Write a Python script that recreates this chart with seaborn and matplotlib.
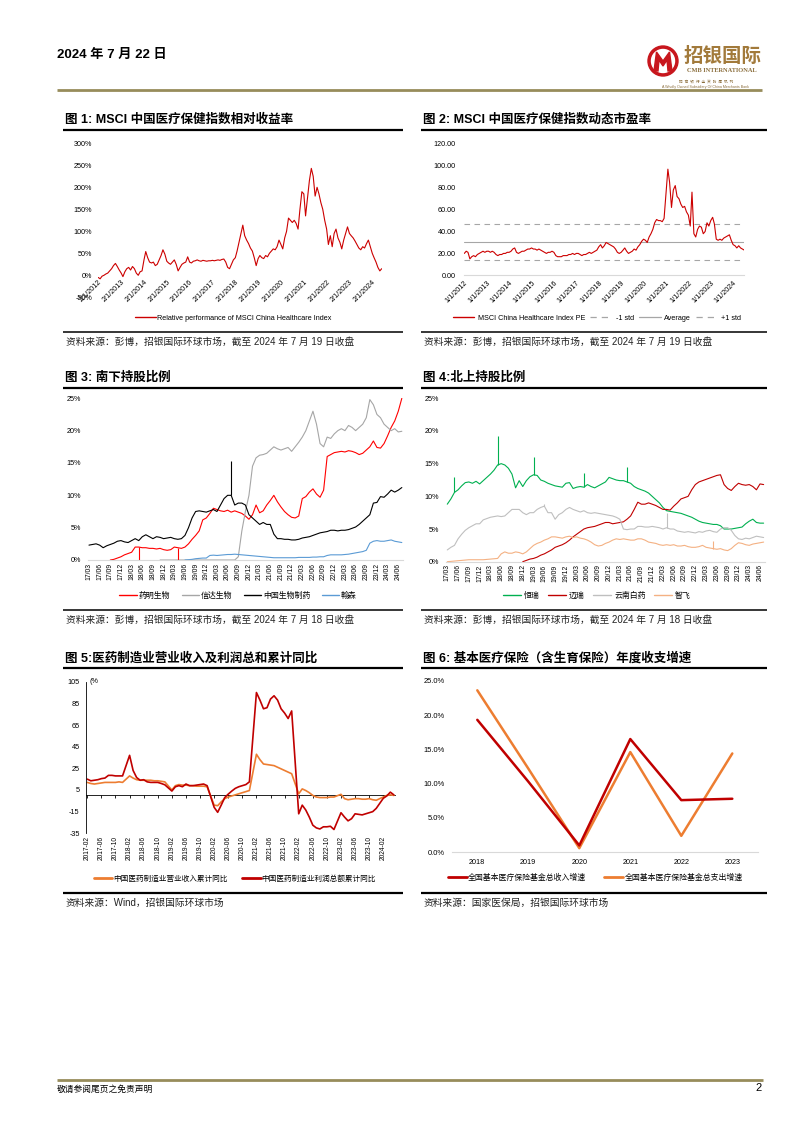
import numpy as np
import pandas as pd
import matplotlib
matplotlib.use("Agg")
import matplotlib.pyplot as plt
import seaborn as sns
from matplotlib.lines import Line2D
from matplotlib.patches import Circle, Polygon

nan = np.nan

# ---- 图1: relative performance, monthly from 2012-02 to 2024-07 (%)
rel_perf = [
    -5, -8, -2, 0, 3, 5, 10, 15, 22, 27, 20,
    12, 5, -3, 8, 15, 18, 12, 20, 15, 5, 0, 8,
    10, 35, 54, 40, 30, 28, 30, 22, 25, 35, 45, 58,
    48, 32, 28, 25, 30, 35, 25, 10, 18, 25, 28, 30,
    42, 30, 28, 32, 33, 35, 33, 32, 34, 33, 32, 33,
    33, 34, 33, 34, 35, 34, 36, 37, 30, 18, 15, 25,
    35, 40, 55, 75, 95, 114, 90, 80, 72, 62, 55, 40,
    22, 38, 45, 40, 38, 45, 42, 50, 55, 60, 58, 65,
    80, 70, 60, 85, 100, 130, 125, 120, 125, 118, 105, 150,
    190, 185, 135, 175, 215, 243, 225, 180, 200, 185, 165, 150,
    125, 105, 70, 90, 65, 95, 105, 85, 75, 60, 80, 95,
    110, 95, 90, 85, 78, 70, 62, 58, 65, 62, 72, 80,
    65, 50, 40, 30, 18, 10, 15,
]
rel_years = list(range(2012, 2025))

# ---- 图2: PE, monthly from 2012-01 to 2024-07
pe = [
    20, 22, 21, 15, 17, 18, 17, 19, 20, 21, 22, 21,
    22, 22, 21, 22, 21, 19, 18, 19, 19, 20, 20, 21,
    21, 22, 24, 25, 21, 20, 21, 22, 22, 23, 24, 24,
    25, 24, 24, 23, 24, 23, 22, 21, 20, 21, 21, 22,
    21, 18, 17, 17, 17, 18, 18, 18, 19, 19, 20, 19,
    20, 20, 19, 18, 19, 19, 20, 21, 20, 21, 22, 23,
    26, 28, 25, 27, 30, 29, 28, 27, 26, 24, 21, 20,
    21, 23, 25, 22, 20, 21, 22, 24, 23, 26, 28, 31,
    33, 32, 30, 35, 38, 42, 48, 51, 50, 50, 49, 52,
    75, 97, 85, 62, 78, 82, 72, 70, 65, 62, 63, 58,
    55, 45, 76, 38, 35, 42, 45, 44, 38, 40, 48, 45,
    50, 53, 47, 33, 32, 33, 32, 34, 35, 36, 37, 32,
    28, 27, 25, 27, 25, 24, 23,
]
pe_minus_std, pe_avg, pe_plus_std = 14.3, 30.2, 46.6

# ---- 图3: southbound holding ratio (%), monthly 2017-03 .. 2024-07
sb_wuxi = [
    nan, nan, nan, nan, nan, nan, 0.0, 0.1, 0.3, 0.5,
    0.8, 1.0, 1.2, 2.0, 2.0, 1.9, 1.9, 1.8, 1.8, 1.7, 1.8, 1.6,
    1.5, 1.6, 2.0, 1.9, 1.8, 2.0, 2.5, 3.2, 3.8, 4.5, 6.2, 6.5,
    7.2, 8.0, 7.8, 7.6, 7.5, 7.7, 7.4, 7.6, 7.4, 7.2, 6.8, 6.3,
    7.0, 8.5, 7.3, 7.6, 8.5, 9.2, 10.0, 9.0, 8.2, 7.5, 7.0, 6.6,
    6.5, 6.8, 9.5, 9.8, 10.5, 11.0, 10.2, 9.7, 10.8, 16.0, 16.3, 16.6,
    16.7, 16.8, 16.7, 16.9, 16.8, 16.6, 16.3, 16.5, 17.0, 17.5, 18.4, 17.4,
    17.3, 18.0, 19.2, 20.5, 21.5, 23.0, 25.0,
]
sb_innovent = [
    nan, nan, nan, nan, nan, nan, nan, nan, nan, nan,
    nan, nan, nan, nan, nan, nan, nan, nan, nan, nan, 0.0, 0.0,
    0, 0, 0, 0, 0, 0, 0, 0, 0, 0, 0, 0,
    0, 0, 0, 0, 0, 0, 0, 0, 0.5, 4.5, 7.5, 10.0,
    14.5, 15.8, 16.2, 16.3, 16.5, 17.0, 17.5, 17.2, 17.0, 17.2, 17.4, 16.8,
    17.5, 18.2, 19.0, 20.0, 21.5, 23.0, 21.0, 18.0, 17.5, 19.0, 18.8, 19.5,
    20.0, 20.3, 20.0, 20.8, 20.5, 20.0, 20.5, 21.0, 22.0, 24.8, 24.0, 22.5,
    22.0, 21.0, 20.5, 20.0, 20.3, 19.8, 19.9,
]
sb_sinobio = [
    2.3, 2.4, 2.5, 2.3, 1.9, 2.2, 2.4, 2.6, 2.9, 3.0,
    2.8, 2.7, 3.0, 3.3, 3.0, 3.6, 3.9, 3.6, 3.3, 3.6, 3.5, 3.3,
    3.4, 3.5, 3.3, 3.2, 3.3, 3.8, 5.0, 6.5, 7.5, 7.6, 7.5, 7.4,
    7.6, 7.8, 7.5, 8.5, 9.5, 10.0, 10.0, 8.5, 8.8, 8.8, 8.5, 7.0,
    6.5, 6.0, 5.5, 5.8, 5.5, 5.5, 4.0, 3.3, 3.3, 3.2, 3.2, 3.1,
    3.1, 3.2, 3.4, 3.5, 3.6, 3.8, 4.0, 4.2, 4.3, 4.4, 4.6, 4.6,
    4.5, 4.6, 4.6, 4.7, 4.9, 5.1, 5.5, 6.0, 6.5, 7.0, 8.8, 8.9,
    9.8, 9.7, 10.2, 10.8, 10.5, 10.8, 11.2,
]
sb_hansoh = [
    nan, nan, nan, nan, nan, nan, nan, nan, nan, nan,
    nan, nan, nan, nan, nan, nan, nan, nan, nan, nan, nan, nan,
    nan, nan, nan, nan, nan, 0.0, 0.05, 0.1, 0.2, 0.25, 0.3, 0.3,
    0.7, 0.75, 0.7, 0.75, 0.8, 0.85, 0.85, 0.9, 0.85, 0.8, 0.75, 0.7,
    0.65, 0.6, 0.55, 0.5, 0.45, 0.4, 0.35, 0.35, 0.35, 0.35, 0.35, 0.35,
    0.35, 0.4, 0.4, 0.4, 0.4, 0.45, 0.45, 0.5, 0.5, 0.7, 0.8, 0.8,
    0.8, 0.8, 0.85, 0.9, 1.0, 1.1, 1.2, 1.3, 1.5, 2.6, 2.9, 3.0,
    2.9, 2.9, 3.0, 3.1, 2.9, 2.8, 2.7,
]
sb_names = ["药明生物", "信达生物", "中国生物制药", "翰森"]
sb_colors = ["#ff0000", "#a6a6a6", "#000000", "#5b9bd5"]
# one-day spikes: (series, month index, spike end)
sb_spikes = [(0, 14, 0.0), (0, 25, 0.0), (2, 40, 15.3)]

# ---- 图4: northbound holding ratio (%), monthly 2017-03 .. 2024-07
nb_hengrui = [
    8.8, 9.6, 10.6, 11.0, 11.6, 12.1, 12.2, 12.0, 12.3, 11.9,
    12.4, 12.9, 13.4, 14.0, 14.8, 15.0, 14.8, 14.3, 13.4, 11.3, 12.4, 11.5,
    12.4, 13.0, 13.3, 13.2, 12.5, 12.3, 12.0, 11.8, 11.6, 11.5, 11.4, 12.0,
    12.1, 11.2, 11.4, 11.5, 11.4, 11.8, 11.5, 11.3, 11.6, 11.9, 12.2, 12.9,
    12.7, 12.5, 12.4, 12.4, 12.2, 12.0, 11.5, 11.2, 11.0, 10.8, 10.5, 10.0,
    9.5, 9.0, 8.3, 7.8, 7.7, 7.6, 7.5, 7.4, 7.2, 7.0, 6.8, 6.5,
    6.2, 6.0, 5.9, 5.8, 5.7, 5.7, 5.5, 5.0, 5.0, 5.0, 5.1, 5.2,
    5.3, 5.8, 6.2, 6.5, 6.0, 5.9, 5.9,
]
nb_mindray = [
    nan, nan, nan, nan, nan, nan, nan, nan, nan, nan,
    nan, nan, nan, nan, nan, nan, nan, nan, nan, nan, nan, 0.0,
    0.2, 0.4, 0.5, 0.7, 1.0, 1.2, 1.5, 1.8, 2.2, 2.4, 2.6, 2.9,
    3.3, 3.8, 4.2, 4.6, 5.0, 5.2, 5.3, 5.4, 5.6, 5.8, 6.0, 6.0,
    5.8, 5.9, 6.0, 6.1, 6.5, 7.0, 8.0, 9.1, 8.8, 8.8, 9.0, 8.8,
    8.6, 8.3, 8.0, 8.0, 7.9, 8.5, 9.0, 9.6, 9.8, 10.0, 11.0, 11.8,
    12.2, 12.4, 12.6, 12.8, 13.0, 13.2, 13.3, 11.8, 11.2, 10.9, 11.5, 12.0,
    11.8, 11.7, 11.8, 11.5, 11.0, 11.9, 11.8,
]
nb_yunnan = [
    1.8, 2.2, 2.5, 3.5, 4.2, 4.8, 5.2, 5.5, 5.8, 5.8,
    6.4, 6.6, 6.8, 6.9, 7.0, 6.9, 7.0, 7.5, 8.0, 8.0, 8.0, 7.5,
    7.2, 7.5, 7.5, 8.0, 8.3, 8.5, 7.5, 7.5, 6.5, 7.2, 7.5, 8.0,
    8.3, 8.0, 7.8, 7.6, 7.8, 7.5, 7.4, 7.5, 7.4, 7.3, 7.2, 7.1,
    7.0, 6.8, 6.5, 5.0, 4.9, 5.0, 5.0, 5.4, 5.4, 5.3, 5.3, 5.4,
    5.3, 5.2, 5.0, 5.2, 5.0, 5.0, 4.7, 4.6, 4.5, 4.6, 4.5, 4.4,
    4.6, 4.5, 4.7, 4.8, 4.6, 4.5, 5.0, 5.2, 5.2, 4.8, 4.0, 3.5,
    3.4, 3.6, 3.5, 3.7, 3.9, 3.8, 3.7,
]
nb_zhifei = [
    0.0, 0.05, 0.1, 0.15, 0.2, 0.25, 0.3, 0.3, 0.3, 0.3,
    0.3, 0.35, 0.4, 0.45, 0.5, 1.2, 1.5, 1.3, 1.3, 1.5, 1.4, 1.2,
    1.5, 2.0, 2.5, 2.8, 3.0, 3.3, 3.5, 3.8, 3.8, 3.7, 3.6, 3.8,
    3.9, 3.7, 3.8, 3.6, 3.5, 3.3, 3.0, 2.6, 2.4, 2.5, 2.8, 3.0,
    3.3, 3.5, 3.4, 3.5, 3.4, 3.3, 3.3, 3.5, 3.5, 3.3, 3.0, 2.9,
    2.8, 2.6, 2.5, 2.6, 2.5, 2.6, 2.4, 2.4, 2.5, 2.3, 2.2, 2.2,
    2.3, 2.5, 2.2, 2.1, 2.0, 1.9, 2.0, 1.8, 1.7, 2.0, 2.5, 2.9,
    2.8, 2.6, 2.5, 2.7, 2.8, 2.9, 3.0,
]
nb_names = ["恒瑞", "迈瑞", "云南白药", "智飞"]
nb_colors = ["#00b050", "#c00000", "#bfbfbf", "#f4b183"]
nb_spikes = [(0, 2, 13.0), (0, 14, 19.2), (0, 24, 16.0), (0, 38, 13.5), (0, 50, 14.5),
             (2, 27, 8.8), (2, 61, 7.4), (3, 74, 3.2)]

quarter_ticks = [f"{y % 100}/{m:02d}" for y in range(2017, 2025) for m in (3, 6, 9, 12)][:30]

# ---- 图5: cumulative YoY (%), 2017-02 .. 2024-05 (no January figures)
mfg_months = [f"{y}-{m:02d}" for y in range(2017, 2025) for m in range(2, 13)][:81]
mfg_revenue = [
    12, 11, 10.5, 11, 11.5, 12, 12, 12, 12, 12.5, 12,
    18, 16, 14.5, 14, 14, 14, 14, 13.5, 13.5, 13, 12.5,
    5, 9, 10, 9.5, 9.5, 9, 9, 8.5, 8.5, 8.5, 8,
    -9, -9.5, -6, -3, -1.5, -0.5, 0.5, 1.5, 2.5, 3.5, 4.5,
    38, 33, 29, 28.5, 28, 27.5, 26, 24.5, 23, 21.5, 20,
    1.5, 6, 4.5, 2.5, 0, -1.5, -2, -2, -2, -1.5, -1.5,
    1, -3, -4, -3.5, -3, -3, -3.5, -3.5, -3, -4, -4.5,
    -1.5, 0, 0.5, 0,
]
mfg_profit = [
    15, 13.5, 14, 14.5, 15.5, 16, 18.5, 18.5, 18, 18, 18,
    37, 23, 16.5, 14, 14.5, 12.5, 12, 12, 12, 11, 9.8,
    4, 8, 9, 8, 10.5, 9, 9, 9.5, 10, 10.5, 9,
    -11, -15.6, -9, -2, 1.2, 4, 6.5, 8, 9, 10, 12.5,
    95, 88, 80, 81, 89, 92, 88, 80, 76, 71, 78,
    -17, -9, -13.5, -20, -27.5, -30, -31, -29, -29, -28.5, -31.5,
    -16, -20, -23.5, -21.5, -17, -17.5, -18, -17, -16, -15, -12,
    -2.7, -0.5, 3, 0.5,
]
mfg_names = ["中国医药制造业营业收入累计同比", "中国医药制造业利润总额累计同比"]

# ---- 图6: medical insurance fund growth (%)
ins_years = ["2018", "2019", "2020", "2021", "2022", "2023"]
ins_income = [19.3, 10.3, 1.0, 16.5, 7.6, 7.8]
ins_expense = [23.6, 12.2, 0.6, 14.6, 2.4, 14.4]
ins_names = ["全国基本医疗保险基金总收入增速", "全国基本医疗保险基金总支出增速"]

# ------------------------------------------------------------------
sns.set_style("white")
plt.rcParams["font.family"] = ["Liberation Sans", "Noto Sans CJK SC", "DejaVu Sans"]
plt.rcParams["axes.unicode_minus"] = False
plt.rcParams["text.color"] = "black"

W, H = 793, 1122
fig = plt.figure(figsize=(W / 100, H / 100), dpi=100)
GOLD = "#978c5b"
TICK_FS = 5.2


def fy(y):
    return 1 - y / H


def px_axes(left, top, right, bottom):
    return fig.add_axes([left / W, fy(bottom), (right - left) / W, (bottom - top) / H])


def rule(x0, x1, y, lw, color="black"):
    fig.add_artist(Line2D([x0 / W, x1 / W], [fy(y), fy(y)], lw=lw, color=color,
                          solid_capstyle="butt"))


def put(x, y, s, **kw):
    kw.setdefault("va", "center")
    fig.text(x / W, fy(y), s, **kw)


def clean(ax):
    for s in ax.spines.values():
        s.set_visible(False)
    ax.set_xlabel("")
    ax.set_ylabel("")
    ax.patch.set_alpha(0)
    ax.tick_params(length=0, labelsize=TICK_FS, colors="black", pad=2)


def fig_legend(handles, labels, cx, cy, fs=5.2, hl=2.8, cs=1.5, tp=0.4):
    fig.legend(handles, labels, loc="center", bbox_to_anchor=(cx / W, fy(cy)),
               ncol=len(labels), frameon=False, fontsize=fs, handlelength=hl,
               columnspacing=cs, handletextpad=tp, borderpad=0, borderaxespad=0)


# ---- header / footer
put(57, 55, "2024 年 7 月 22 日", fontsize=9.5, fontweight="bold")
rule(57, 762, 90, 2.0, GOLD)
rule(57, 763, 1080, 2.0, GOLD)
put(57, 1089, "敬请参阅尾页之免责声明", fontsize=6.3)
put(762, 1088, "2", fontsize=8, ha="right")

lg = px_axes(640, 40, 770, 95)
lg.set_xlim(640, 770)
lg.set_ylim(95, 40)
lg.axis("off")
lg.add_patch(Circle((663, 61), 15, color="#c8161d"))
lg.add_patch(Circle((663, 61), 11.5, color="white"))
lg.add_patch(Polygon([(654, 71), (656.5, 52), (663, 61), (669.5, 52), (672, 71),
                      (668, 71), (667, 60), (663, 66), (659, 60), (658, 71)],
                     closed=True, color="#c8161d"))
lg.text(723, 56.5, "招银国际", ha="center", va="center", fontsize=14,
        fontweight="bold", color="#a27a3b")
lg.text(722, 70.5, "CMB INTERNATIONAL", ha="center", va="center", fontsize=4.6,
        family="Liberation Serif", fontweight="bold", color="#8a6d3b")
lg.text(706, 82, "招  商  银  行  全  资  附  属  机  构", ha="center", va="center",
        fontsize=2.6, color="#8a6d3b")
lg.text(706, 87, "A Wholly Owned Subsidiary Of China Merchants Bank", ha="center",
        va="center", fontsize=2.6, color="#8a6d3b")

# ---- titles, rules, sources
L0, L1, R0, R1 = 63, 403, 421, 767
titles = [
    (65, 120, "图 1: MSCI 中国医疗保健指数相对收益率"),
    (423, 120, "图 2: MSCI 中国医疗保健指数动态市盈率"),
    (65, 378, "图 3: 南下持股比例"),
    (423, 378, "图 4:北上持股比例"),
    (65, 658, "图 5:医药制造业营业收入及利润总和累计同比"),
    (423, 658, "图 6: 基本医疗保险（含生育保险）年度收支增速"),
]
for x, y, s in titles:
    put(x, y, s, fontsize=9, fontweight="bold")
for y in (130, 388, 668):
    rule(L0, L1, y, 1.6)
    rule(R0, R1, y, 1.6)
for y in (332, 610):
    rule(L0, L1, y, 1.1)
    rule(R0, R1, y, 1.1)
rule(L0, L1, 893, 1.6)
rule(R0, R1, 893, 1.6)

src = [
    (66, 342, "资料来源：彭博，招银国际环球市场，截至 2024 年 7 月 19 日收盘"),
    (424, 342, "资料来源：彭博，招银国际环球市场，截至 2024 年 7 月 19 日收盘"),
    (66, 620, "资料来源：彭博，招银国际环球市场，截至 2024 年 7 月 18 日收盘"),
    (424, 620, "资料来源：彭博，招银国际环球市场，截至 2024 年 7 月 18 日收盘"),
    (66, 903, "资料来源：Wind，招银国际环球市场"),
    (424, 903, "资料来源：国家医保局，招银国际环球市场"),
]
for x, y, s in src:
    put(x, y, s, fontsize=7, color="#222222")

# ---- 图1
ax1 = px_axes(98.3, 143.3, 381.7, 297.3)
d1 = pd.DataFrame({"date": pd.date_range("2012-02-01", periods=len(rel_perf), freq="MS"),
                   "value": rel_perf})
sns.lineplot(data=d1, x="date", y="value", ax=ax1, color="#cc0000", lw=0.8, errorbar=None)
ax1.set_xlim(d1["date"].iloc[0], d1["date"].iloc[-1])
ax1.set_ylim(-50, 300)
clean(ax1)
ax1.spines["bottom"].set_position(("data", 0))
ax1.set_yticks(range(-50, 301, 50))
ax1.set_yticklabels([f"{v}%" for v in range(-50, 301, 50)])
ax1.set_xticks([pd.Timestamp(f"{y}-02-01") for y in rel_years])
ax1.set_xticklabels([f"2/1/{y}" for y in rel_years], rotation=45, ha="right",
                    rotation_mode="anchor")
ax1.tick_params(axis="y", pad=4.5)
ax1.tick_params(axis="x", pad=2)
fig_legend([Line2D([], [], color="#cc0000", lw=1.0)],
           ["Relative performance of MSCI China Healthcare Index"], 233, 318,
           fs=5.2, hl=2.9, tp=0.15)

# ---- 图2
ax2 = px_axes(464.3, 144, 744.3, 275.3)
d2 = pd.DataFrame({"date": pd.date_range("2012-01-01", periods=len(pe), freq="MS"),
                   "value": pe})
sns.lineplot(data=d2, x="date", y="value", ax=ax2, color="#cc0000", lw=0.8, errorbar=None)
ax2.axhline(pe_plus_std, color="#a6a6a6", lw=0.8, ls=(0, (5, 4)), zorder=1)
ax2.axhline(pe_avg, color="#a6a6a6", lw=0.8, zorder=1)
ax2.axhline(pe_minus_std, color="#a6a6a6", lw=0.8, ls=(0, (5, 4)), zorder=1)
ax2.set_xlim(d2["date"].iloc[0], d2["date"].iloc[-1])
ax2.set_ylim(0, 120)
clean(ax2)
ax2.spines["bottom"].set_visible(True)
ax2.spines["bottom"].set_color("#d9d9d9")
ax2.spines["bottom"].set_linewidth(0.8)
ax2.set_yticks(range(0, 121, 20))
ax2.set_yticklabels([f"{v:.2f}" for v in range(0, 121, 20)])
ax2.set_xticks([pd.Timestamp(f"{y}-01-01") for y in rel_years])
ax2.set_xticklabels([f"1/1/{y}" for y in rel_years], rotation=45, ha="right",
                    rotation_mode="anchor")
ax2.tick_params(axis="y", pad=6)
ax2.tick_params(axis="x", pad=3)
fig_legend([Line2D([], [], color="#cc0000", lw=1.0),
            Line2D([], [], color="#a6a6a6", lw=0.9, ls=(0, (5, 4))),
            Line2D([], [], color="#a6a6a6", lw=0.9),
            Line2D([], [], color="#a6a6a6", lw=0.9, ls=(0, (5, 4)))],
           ["MSCI China Healthcare Index PE", "-1 std", "Average", "+1 std"],
           597, 318, fs=5.2, hl=3.0, cs=0.7, tp=0.5)


def holding_chart(box, series, colors, spikes, names, legend_xy, legend_kw):
    ax = px_axes(*box)
    x = np.arange(len(series[0]))
    for vals, col in zip(series, colors):
        sns.lineplot(x=x, y=vals, ax=ax, color=col, lw=0.8, errorbar=None)
    for k, i, top in spikes:
        ax.vlines(i, series[k][i], top, color=colors[k], lw=0.8)
    ax.set_xlim(-0.3, 88.3)
    ax.set_ylim(0, 25)
    clean(ax)
    ax.spines["bottom"].set_visible(True)
    ax.spines["bottom"].set_color("#d9d9d9")
    ax.spines["bottom"].set_linewidth(0.8)
    ax.set_yticks(range(0, 26, 5))
    ax.set_yticklabels([f"{v}%" for v in range(0, 26, 5)])
    ax.set_xticks(range(0, 88, 3))
    ax.set_xticklabels(quarter_ticks, rotation=90, ha="center", va="top")
    ax.tick_params(axis="x", labelsize=4.9, pad=2)
    ax.tick_params(axis="y", pad=5)
    fig_legend([Line2D([], [], color=c, lw=1.0) for c in colors], names,
               *legend_xy, **legend_kw)
    return ax


holding_chart((87.9, 398.3, 402.9, 560), [sb_wuxi, sb_innovent, sb_sinobio, sb_hansoh],
              sb_colors, sb_spikes, sb_names, (238, 596),
              dict(fs=5.7, hl=2.2, cs=1.5, tp=0.2))
holding_chart((446.2, 398.3, 764.7, 561.7), [nb_hengrui, nb_mindray, nb_yunnan, nb_zhifei],
              nb_colors, nb_spikes, nb_names, (597, 596),
              dict(fs=5.7, hl=2.2, cs=1.1, tp=0.4))

# ---- 图5
ax5 = px_axes(85.9, 681.7, 394.9, 833.3)
m_off = [(int(s[:4]) - 2017) * 12 + int(s[5:]) - 2 for s in mfg_months]
d5 = pd.DataFrame({"m": m_off, "rev": mfg_revenue, "profit": mfg_profit})
sns.lineplot(data=d5, x="m", y="rev", ax=ax5, color="#ed7d31", lw=1.2, errorbar=None)
sns.lineplot(data=d5, x="m", y="profit", ax=ax5, color="#c00000", lw=1.2, errorbar=None)
ax5.set_xlim(-0.4, 87.3)
ax5.set_ylim(-35, 105)
clean(ax5)
ax5.spines["left"].set_visible(True)
ax5.spines["left"].set_color("black")
ax5.spines["left"].set_linewidth(0.6)
ax5.set_yticks(range(-35, 106, 20))
ax5.tick_params(axis="y", length=2.5, width=0.6, direction="out", pad=2)
tick_months = [s for s in mfg_months if s[5:] in ("02", "06", "10")]
ax5.set_xticks([m_off[mfg_months.index(s)] for s in tick_months])
ax5.set_xticklabels(tick_months, rotation=90, ha="center", va="top")
ax5.tick_params(axis="x", labelsize=4.8, pad=2)
zero_axis = ax5.secondary_xaxis(35 / 140)
zero_axis.set_xticks(ax5.get_xticks())
zero_axis.set_xticklabels([])
zero_axis.tick_params(length=2.5, width=0.6, direction="out", colors="black")
zero_axis.spines["bottom"].set_linewidth(0.6)
zero_axis.spines["bottom"].set_color("black")
ax5.text(0.012, 1.0, "(%", transform=ax5.transAxes, fontsize=5.2, va="center", ha="left")
fig_legend([Line2D([], [], color="#ed7d31", lw=2.0), Line2D([], [], color="#c00000", lw=2.0)],
           mfg_names, 235, 879, fs=5.5, hl=2.4, cs=1.9, tp=0.15)

# ---- 图6
ax6 = px_axes(451.8, 680.7, 757.8, 852.3)
d6 = pd.DataFrame({"year": ins_years, "income": ins_income, "expense": ins_expense})
sns.lineplot(data=d6, x="year", y="expense", ax=ax6, color="#ed7d31", lw=1.8,
             sort=False, errorbar=None)
sns.lineplot(data=d6, x="year", y="income", ax=ax6, color="#c00000", lw=1.8,
             sort=False, errorbar=None)
ax6.set_xlim(-0.5, 5.5)
ax6.set_ylim(0, 25)
clean(ax6)
ax6.spines["bottom"].set_visible(True)
ax6.spines["bottom"].set_color("#d9d9d9")
ax6.spines["bottom"].set_linewidth(0.8)
ax6.set_yticks(range(0, 26, 5))
ax6.set_yticklabels([f"{v:.1f}%" for v in range(0, 26, 5)])
ax6.tick_params(axis="y", labelsize=5.4, pad=5)
ax6.tick_params(axis="x", labelsize=5.2, pad=5)
fig_legend([Line2D([], [], color="#c00000", lw=2.0), Line2D([], [], color="#ed7d31", lw=2.0)],
           ins_names, 595, 878, fs=5.7, hl=2.4, cs=2.3, tp=0.15)

fig.savefig("out.png", dpi=100)
